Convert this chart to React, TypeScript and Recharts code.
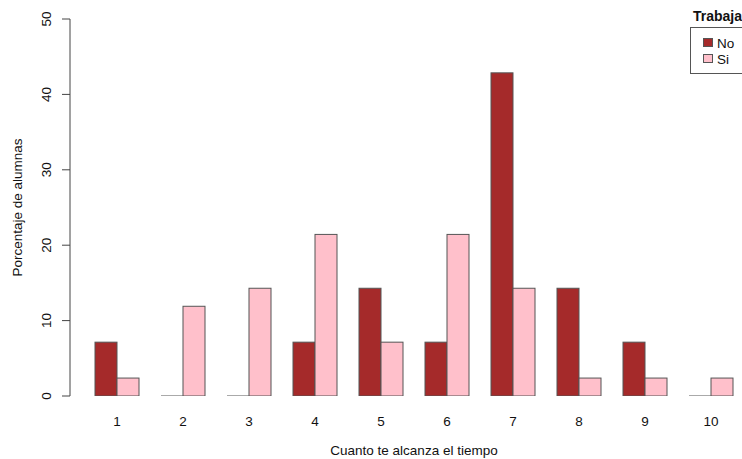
import React from "react";
import { BarChart, Bar, XAxis, YAxis, Legend } from "recharts";

const categories = ["1", "2", "3", "4", "5", "6", "7", "8", "9", "10"];
const noValues = [7.14, 0, 0, 7.14, 14.29, 7.14, 42.86, 14.29, 7.14, 0];
const siValues = [2.38, 11.9, 14.29, 21.43, 7.14, 21.43, 14.29, 2.38, 2.38, 2.38];
const yTicks = [0, 10, 20, 30, 40, 50];
const seriesNames = ["No", "Si"];
const legendTitle = "Trabaja";
const xTitle = "Cuanto te alcanza el tiempo";
const yTitle = "Porcentaje de alumnas";

const COLORS = { No: "#A52A2A", Si: "#FFC0CB" };
const FONT = "'Liberation Sans', Arial, sans-serif";
const TEXT = "#111";
const EDGE = "#555";

const data = categories.map((c, i) => ({ cat: c, No: noValues[i], Si: siValues[i] }));

const BarShape = (props: any) => {
  const { x, y, width, height, fill } = props;
  if (!height || Math.abs(height) < 0.5) {
    return <line x1={x} x2={x + width} y1={y} y2={y} stroke={EDGE} strokeWidth={1} />;
  }
  return <rect x={x} y={y} width={width} height={height} fill={fill} stroke={EDGE} strokeWidth={1} />;
};

const YTick = (props: any) => {
  const { x, y, payload } = props;
  const bx = x - 3;
  return (
    <text
      x={bx}
      y={y}
      transform={`rotate(-90, ${bx}, ${y})`}
      textAnchor="middle"
      fontSize={13.5}
      fontFamily={FONT}
      fill={TEXT}
    >
      {payload.value}
    </text>
  );
};

const LegendBox = () => (
  <svg width={120} height={80} style={{ display: "block", overflow: "visible" }}>
    <text x={13} y={21} fontSize={14} fontWeight="bold" fontFamily={FONT} fill={TEXT}>
      {legendTitle}
    </text>
    <rect x={10.5} y={27.5} width={100} height={46} fill="#fff" stroke="#555" strokeWidth={1} />
    {seriesNames.map((n, i) => (
      <g key={n}>
        <rect
          x={23.5}
          y={38.5 + i * 16}
          width={9}
          height={8}
          fill={(COLORS as any)[n]}
          stroke={EDGE}
          strokeWidth={1}
        />
        <text x={37} y={47.5 + i * 16} fontSize={13.5} fontFamily={FONT} fill={TEXT}>
          {n}
        </text>
      </g>
    ))}
  </svg>
);

export default function App() {
  return (
    <div
      style={{
        position: "absolute",
        left: 0,
        top: 0,
        width: 742,
        height: 459,
        overflow: "hidden",
        background: "#fff",
      }}
    >
      <BarChart
        width={760}
        height={459}
        data={data}
        margin={{ top: 19, right: 16, left: 0, bottom: 0 }}
        barCategoryGap={11}
        barGap={0}
      >
        <XAxis
          dataKey="cat"
          height={63}
          padding={{ left: 14, right: 0 }}
          axisLine={false}
          tickLine={false}
          tickSize={8}
          tickMargin={12}
          tick={{ fontSize: 13.5, fontFamily: FONT, fill: TEXT }}
          interval={0}
          label={{
            content: (p: any) => {
              const vb = p.viewBox;
              return (
                <text
                  x={vb.x + vb.width / 2 + 7}
                  y={455}
                  textAnchor="middle"
                  fontSize={13.5}
                  fontFamily={FONT}
                  fill={TEXT}
                >
                  {xTitle}
                </text>
              );
            },
          }}
        />
        <YAxis
          width={70}
          domain={[0, 50]}
          ticks={yTicks}
          interval={0}
          allowDataOverflow
          axisLine={{ stroke: "#444" }}
          tickLine={{ stroke: "#444" }}
          tickSize={8}
          tickMargin={8}
          tick={<YTick />}
          label={{
            content: (p: any) => {
              const vb = p.viewBox;
              const cy = vb.y + vb.height / 2;
              return (
                <text
                  x={22}
                  y={cy}
                  transform={`rotate(-90, 22, ${cy})`}
                  textAnchor="middle"
                  fontSize={13.5}
                  fontFamily={FONT}
                  fill={TEXT}
                >
                  {yTitle}
                </text>
              );
            },
          }}
        />
        <Legend
          layout="vertical"
          align="center"
          verticalAlign="middle"
          wrapperStyle={{ position: "absolute", left: 680, top: 0, width: 120, height: 80 }}
          content={() => <LegendBox />}
        />
        <Bar dataKey="No" fill={COLORS.No} isAnimationActive={false} shape={<BarShape />} />
        <Bar dataKey="Si" fill={COLORS.Si} isAnimationActive={false} shape={<BarShape />} />
      </BarChart>
    </div>
  );
}
